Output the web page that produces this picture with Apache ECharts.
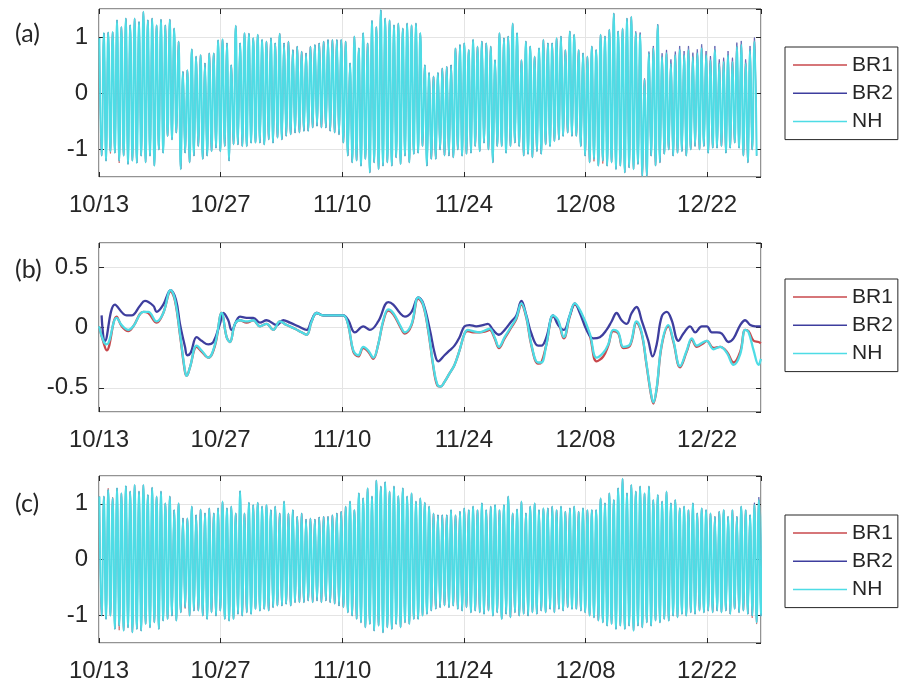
<!DOCTYPE html>
<html><head><meta charset="utf-8">
<script src="https://cdn.jsdelivr.net/npm/echarts@6/dist/echarts.min.js"></script>
<style>html,body{margin:0;padding:0;background:#fff}#c{width:899px;height:683px}</style>
</head><body><div id="c"></div>
<script>
// ---------- data ----------
const seriesNames = ['BR1', 'BR2', 'NH'];
const panelLabels = ['(a)', '(b)', '(c)'];
const startDateUTC = [2019, 9, 13];      // 10/13
const xMaxDay = 76.2;                    // days after 10/13
const xTickStepDay = 14;
const tideStartDay = 0.05;
const tideStepDay = 0.253;               // spacing between successive high / low waters

// (a) high and low waters
const aNHHigh = [0.98,1.07,1.08,1.09,1.30,1.18,1.33,1.21,1.33,1.27,1.45,1.30,1.33,1.21,1.31,1.21,1.31,1.15,0.92,0.38,0.41,0.78,0.65,0.68,0.53,0.71,0.71,0.94,0.96,0.89,0.50,1.20,0.89,1.07,1.06,0.98,1.04,0.95,0.92,0.98,0.89,1.06,0.89,0.92,0.77,0.83,0.74,0.71,0.83,0.86,0.89,0.92,0.95,0.95,0.95,0.95,0.92,0.53,1.01,0.80,1.07,0.89,1.29,1.18,1.48,1.33,1.30,1.21,1.24,1.15,1.24,1.21,1.24,1.07,0.50,0.36,0.30,0.36,0.44,0.47,0.50,0.80,0.86,0.89,0.77,0.95,0.83,0.92,0.89,0.83,0.59,1.07,0.98,1.01,1.24,1.07,0.59,0.92,0.83,0.65,0.80,0.95,0.89,0.89,0.98,1.01,0.77,1.10,1.04,0.77,0.71,0.65,0.83,0.77,1.04,1.01,1.13,1.42,1.10,1.15,1.33,1.36,1.07,1.04,0.24,0.71,0.80,1.21,0.65,0.71,0.53,0.68,0.77,0.68,0.77,0.65,0.71,0.80,0.68,0.59,0.77,0.53,0.56,0.68,0.56,0.83,0.86,0.53,0.77,0.92];
const aNHLow = [-1.12,-1.21,-1.04,-1.07,-1.21,-1.12,-1.27,-1.21,-1.25,-1.12,-1.24,-1.12,-1.30,-1.01,-1.07,-0.77,-0.83,-0.71,-1.36,-1.07,-1.24,-1.12,-0.95,-1.18,-1.12,-1.04,-0.98,-1.04,-0.95,-1.21,-0.92,-0.92,-0.95,-0.95,-0.89,-0.89,-0.89,-0.92,-0.83,-0.89,-0.80,-0.83,-0.77,-0.74,-0.71,-0.71,-0.68,-0.68,-0.62,-0.59,-0.62,-0.62,-0.68,-0.71,-0.74,-0.89,-1.12,-1.24,-1.21,-1.30,-1.18,-1.42,-1.24,-1.36,-1.30,-1.24,-1.30,-1.15,-1.27,-1.12,-1.24,-1.09,-1.07,-0.95,-1.30,-1.18,-1.18,-1.01,-1.12,-1.12,-1.15,-1.01,-1.12,-1.09,-1.07,-0.95,-1.04,-0.89,-1.01,-1.24,-0.95,-0.95,-1.07,-0.95,-0.89,-0.95,-1.12,-1.09,-1.15,-1.04,-1.09,-0.92,-0.95,-0.86,-0.83,-0.77,-0.71,-0.77,-0.77,-0.95,-1.12,-1.24,-1.18,-1.30,-1.21,-1.30,-1.24,-1.36,-1.30,-1.42,-1.33,-1.36,-1.27,-1.48,-1.48,-1.12,-1.30,-1.24,-1.09,-1.01,-1.12,-1.07,-1.04,-1.12,-1.01,-0.95,-1.01,-0.95,-1.07,-0.98,-0.98,-0.95,-1.07,-0.98,-0.89,-0.98,-1.12,-1.24,-1.01,-1.12];
const aBR1High = [0.98,1.07,1.08,1.09,1.30,1.18,1.33,1.21,1.33,1.27,1.45,1.30,1.33,1.21,1.31,1.21,1.31,1.15,0.92,0.38,0.41,0.78,0.65,0.68,0.53,0.71,0.71,0.94,0.96,0.89,0.50,1.20,0.89,1.07,1.06,0.98,1.04,0.95,0.92,0.98,0.89,1.06,0.89,0.92,0.77,0.83,0.74,0.71,0.83,0.86,0.89,0.92,0.95,0.95,0.95,0.95,0.92,0.53,1.01,0.80,1.07,0.89,1.29,1.18,1.48,1.33,1.30,1.21,1.24,1.15,1.24,1.21,1.24,1.07,0.50,0.36,0.30,0.36,0.44,0.47,0.50,0.80,0.86,0.89,0.77,0.95,0.83,0.92,0.89,0.83,0.59,1.07,0.98,1.01,1.24,1.07,0.59,0.92,0.83,0.65,0.80,0.95,0.89,0.89,0.98,1.01,0.77,1.10,1.04,0.77,0.71,0.65,0.83,0.77,1.04,1.01,1.13,1.42,1.10,1.15,1.33,1.36,1.07,1.04,0.24,0.71,0.80,1.21,0.65,0.71,0.53,0.68,0.77,0.68,0.77,0.65,0.71,0.80,0.68,0.59,0.77,0.53,0.56,0.68,0.56,0.83,0.86,0.53,0.77,0.92];
const aBR1Low = [-1.12,-1.21,-1.08,-1.07,-1.25,-1.12,-1.27,-1.21,-1.25,-1.12,-1.24,-1.12,-1.30,-1.01,-1.07,-0.77,-0.83,-0.71,-1.36,-1.07,-1.24,-1.12,-0.95,-1.18,-1.12,-1.04,-0.98,-1.04,-0.95,-1.21,-0.92,-0.92,-0.95,-0.95,-0.89,-0.89,-0.89,-0.92,-0.83,-0.89,-0.80,-0.83,-0.77,-0.74,-0.71,-0.71,-0.68,-0.68,-0.62,-0.59,-0.62,-0.62,-0.68,-0.71,-0.74,-0.89,-1.12,-1.24,-1.21,-1.30,-1.18,-1.42,-1.24,-1.36,-1.30,-1.24,-1.30,-1.15,-1.27,-1.12,-1.24,-1.09,-1.07,-0.95,-1.30,-1.18,-1.18,-1.01,-1.12,-1.12,-1.15,-1.01,-1.12,-1.09,-1.07,-0.95,-1.04,-0.89,-1.01,-1.24,-0.95,-0.95,-1.07,-0.95,-0.89,-0.95,-1.12,-1.09,-1.15,-1.04,-1.09,-0.92,-0.95,-0.86,-0.83,-0.77,-0.71,-0.77,-0.77,-0.95,-1.12,-1.24,-1.22,-1.30,-1.26,-1.30,-1.24,-1.36,-1.30,-1.42,-1.33,-1.36,-1.27,-1.48,-1.48,-1.12,-1.30,-1.24,-1.09,-1.01,-1.12,-1.07,-1.04,-1.12,-1.01,-0.95,-1.01,-0.95,-1.07,-0.98,-0.98,-0.95,-1.07,-0.98,-0.89,-0.98,-1.12,-1.24,-1.01,-1.12];
const aBR2High = [0.98,1.07,1.08,1.09,1.30,1.18,1.33,1.21,1.33,1.27,1.45,1.30,1.33,1.21,1.31,1.21,1.31,1.15,0.92,0.38,0.41,0.78,0.65,0.68,0.53,0.71,0.71,0.94,0.96,0.89,0.50,1.20,0.89,1.07,1.06,0.98,1.04,0.95,0.92,0.98,0.89,1.06,0.89,0.92,0.77,0.83,0.74,0.71,0.83,0.86,0.89,0.92,0.95,0.95,0.95,0.95,0.92,0.53,1.01,0.80,1.07,0.89,1.29,1.18,1.48,1.33,1.30,1.21,1.24,1.15,1.24,1.21,1.24,1.07,0.50,0.36,0.30,0.36,0.44,0.47,0.50,0.80,0.86,0.89,0.77,0.95,0.83,0.92,0.89,0.83,0.59,1.07,0.98,1.01,1.24,1.07,0.59,0.92,0.83,0.65,0.80,0.95,0.89,0.89,0.98,1.01,0.77,1.10,1.04,0.77,0.71,0.65,0.83,0.77,1.04,1.01,1.13,1.42,1.10,1.15,1.33,1.36,1.10,1.08,0.26,0.74,0.84,1.23,0.71,0.77,0.60,0.74,0.84,0.75,0.84,0.72,0.78,0.87,0.75,0.66,0.84,0.60,0.63,0.75,0.63,0.90,0.93,0.60,0.84,0.99];
const aBR2Low = [-1.12,-1.21,-1.04,-1.07,-1.21,-1.12,-1.27,-1.21,-1.25,-1.12,-1.24,-1.12,-1.30,-1.01,-1.07,-0.77,-0.83,-0.71,-1.36,-1.07,-1.24,-1.12,-0.95,-1.18,-1.12,-1.04,-0.98,-1.04,-0.95,-1.21,-0.92,-0.92,-0.95,-0.95,-0.89,-0.89,-0.89,-0.92,-0.83,-0.89,-0.80,-0.83,-0.77,-0.74,-0.71,-0.71,-0.68,-0.68,-0.62,-0.59,-0.62,-0.62,-0.68,-0.71,-0.74,-0.89,-1.12,-1.24,-1.21,-1.30,-1.18,-1.42,-1.24,-1.36,-1.30,-1.24,-1.30,-1.15,-1.27,-1.12,-1.24,-1.09,-1.07,-0.95,-1.30,-1.18,-1.18,-1.01,-1.12,-1.12,-1.15,-1.01,-1.12,-1.09,-1.07,-0.95,-1.04,-0.89,-1.01,-1.24,-0.95,-0.95,-1.07,-0.95,-0.89,-0.95,-1.12,-1.09,-1.15,-1.04,-1.09,-0.92,-0.95,-0.86,-0.83,-0.77,-0.71,-0.77,-0.77,-0.95,-1.12,-1.24,-1.18,-1.30,-1.21,-1.30,-1.24,-1.36,-1.30,-1.42,-1.33,-1.36,-1.27,-1.48,-1.48,-1.12,-1.30,-1.24,-1.09,-1.01,-1.12,-1.07,-1.04,-1.12,-1.01,-0.95,-1.01,-0.95,-1.07,-0.98,-0.98,-0.95,-1.07,-0.98,-0.89,-0.98,-1.12,-1.24,-1.01,-1.12];

// (b) subtidal levels
const bDaysNH = [0,0.5,0.88,2.03,2.61,3.38,3.95,5.1,5.68,6.64,7.4,8.25,8.75,9.32,9.9,10.09,10.47,11.24,11.81,12.58,13.35,14.12,14.69,15.07,15.65,16.23,16.99,17.76,18.53,19.29,20.06,20.83,21.6,22.55,23.32,23.9,24.47,25.05,25.81,26.58,27.35,28.12,28.69,29.27,29.84,30.42,30.99,31.57,32.14,32.72,33.3,33.87,34.64,35.21,35.98,36.75,37.32,37.9,38.47,38.93,39.32,39.77,40.35,40.92,41.5,42.08,42.46,43.04,43.81,44.58,44.96,45.54,46.04,46.69,47.46,48.04,48.62,49.19,49.77,50.54,50.92,51.5,52.27,52.85,53.5,54.19,54.77,55.54,56.5,57.27,58.04,58.62,59.19,59.77,60.35,61.12,61.88,62.46,63.04,63.5,63.81,64.19,64.77,65.54,66.12,66.88,67.65,68.23,68.81,69.58,69.96,70.73,71.5,72.27,73.04,73.81,74.38,74.77,75.35,75.92,76.19];
const bNH = [0.01,-0.11,-0.14,0.08,0.02,-0.02,0.01,0.13,0.13,0.05,0.12,0.31,0.23,-0.05,-0.36,-0.40,-0.33,-0.15,-0.19,-0.25,-0.14,0.12,-0.08,-0.12,0.03,0.06,0.05,0.06,0.01,0.03,-0.02,0.05,0.02,-0.01,-0.04,-0.06,0.05,0.12,0.10,0.10,0.10,0.10,0.02,-0.19,-0.23,-0.16,-0.19,-0.25,-0.14,0.06,0.15,0.12,0.02,-0.04,0.03,0.25,0.19,-0.02,-0.31,-0.47,-0.49,-0.45,-0.38,-0.31,-0.19,-0.05,-0.02,-0.03,-0.04,-0.02,-0.01,-0.08,-0.16,-0.08,0.01,0.08,0.20,0.09,-0.14,-0.29,-0.29,-0.14,0.10,0.06,-0.08,0.10,0.20,0.12,-0.05,-0.25,-0.21,-0.14,-0.02,-0.04,-0.16,-0.14,0.05,-0.04,-0.31,-0.53,-0.62,-0.50,-0.14,0.02,-0.11,-0.32,-0.19,-0.09,-0.15,-0.12,-0.11,-0.18,-0.16,-0.21,-0.31,-0.22,-0.02,-0.04,-0.19,-0.31,-0.26];
const bDaysBR1 = bDaysNH;
const bBR1 = [0.01,-0.12,-0.19,0.09,0.01,-0.03,0.01,0.13,0.12,0.04,0.12,0.30,0.22,-0.06,-0.37,-0.40,-0.33,-0.16,-0.20,-0.25,-0.15,0.12,-0.08,-0.12,0.03,0.06,0.04,0.06,0.01,0.03,-0.02,0.05,0.02,-0.01,-0.04,-0.06,0.05,0.12,0.10,0.10,0.10,0.10,0.02,-0.20,-0.24,-0.17,-0.20,-0.26,-0.14,0.05,0.14,0.11,0.01,-0.05,0.02,0.24,0.18,-0.03,-0.32,-0.48,-0.49,-0.45,-0.38,-0.31,-0.19,-0.05,-0.03,-0.04,-0.04,-0.03,-0.02,-0.09,-0.17,-0.09,0.00,0.07,0.19,0.08,-0.15,-0.30,-0.29,-0.14,0.09,0.05,-0.09,0.09,0.19,0.11,-0.07,-0.28,-0.24,-0.15,-0.03,-0.05,-0.17,-0.15,0.04,-0.05,-0.32,-0.54,-0.63,-0.51,-0.15,0.01,-0.12,-0.33,-0.20,-0.10,-0.16,-0.13,-0.11,-0.17,-0.16,-0.20,-0.29,-0.20,-0.02,-0.03,-0.11,-0.12,-0.13];
const bDaysBR2 = [0.3,0.69,1.84,3.18,3.76,4.72,5.29,6.25,6.64,7.4,8.25,8.86,9.32,9.9,10.16,10.55,11.24,11.81,12.58,13.16,13.92,14.31,14.88,15.27,16.23,16.99,17.76,18.53,19.29,20.44,21.21,21.98,22.94,23.9,24.47,25.05,25.81,26.97,28.12,28.69,29.46,30.42,31.18,32.14,33.3,33.87,34.64,35.21,35.98,36.75,37.32,38.09,38.66,39.05,39.77,40.35,40.92,41.5,42.08,42.65,43.42,44.19,44.77,45.35,46.04,46.69,47.46,48.04,48.62,49.19,49.77,50.54,50.92,51.5,52.27,52.85,53.5,54.19,54.77,55.35,56.12,56.88,57.65,58.42,59.0,59.58,60.15,60.73,61.31,61.88,62.46,63.23,63.73,64.19,64.77,65.35,65.92,66.69,67.27,68.04,68.62,69.38,69.96,70.54,71.12,71.69,72.46,73.04,73.81,74.38,74.96,75.54,76.19];
const bBR2 = [0.10,-0.11,0.19,0.10,0.10,0.18,0.22,0.18,0.13,0.19,0.31,0.23,0.03,-0.16,-0.23,-0.21,-0.08,-0.11,-0.14,-0.12,0.03,0.12,0.06,-0.02,0.09,0.08,0.08,0.04,0.06,0.02,0.06,0.04,0.01,-0.02,0.06,0.12,0.10,0.10,0.10,0.06,-0.04,0.01,-0.02,0.05,0.21,0.19,0.12,0.09,0.13,0.25,0.20,-0.02,-0.22,-0.28,-0.23,-0.19,-0.15,-0.08,0.01,0.02,0.01,0.02,0.03,-0.02,-0.06,-0.02,0.05,0.10,0.22,0.10,-0.05,-0.15,-0.15,-0.08,0.10,0.02,-0.02,0.10,0.20,0.12,-0.02,-0.09,-0.08,-0.02,0.05,0.12,0.06,0.03,0.12,0.17,0.06,-0.11,-0.24,-0.14,0.09,0.13,0.06,-0.11,-0.05,0.01,-0.04,0.01,0.01,-0.04,-0.04,-0.05,-0.12,-0.09,0.02,0.06,0.02,0.01,0.01];

// (c) high and low waters
const cNHHigh = [1.13,1.13,1.25,1.10,1.28,1.19,1.32,1.22,1.34,1.22,1.34,1.16,1.29,1.13,1.22,1.01,1.13,0.89,1.01,0.74,0.74,0.95,0.80,0.90,0.83,0.92,0.83,0.92,1.04,0.92,0.95,0.83,1.23,0.83,1.02,0.98,1.02,0.95,0.98,0.89,0.95,0.83,1.04,0.83,0.89,0.77,0.83,0.72,0.74,0.72,0.76,0.77,0.77,0.80,0.83,0.86,0.95,1.04,0.89,1.19,1.10,1.28,1.13,1.42,1.31,1.39,1.22,1.31,1.14,1.28,1.13,1.19,1.04,1.10,1.02,0.95,0.83,0.80,0.80,0.80,0.89,0.80,0.86,0.92,0.89,0.95,0.89,1.01,0.89,0.95,0.98,0.89,0.98,1.13,0.83,0.90,1.04,0.83,0.95,1.01,0.89,0.92,0.92,0.95,0.89,0.95,0.86,0.92,0.95,0.86,0.92,0.89,0.89,0.89,1.10,1.01,1.19,1.07,1.28,1.45,1.19,1.34,1.22,1.31,1.19,1.31,1.07,1.16,1.04,1.22,1.01,1.07,0.92,0.95,0.89,1.01,0.83,0.92,0.89,0.83,0.77,0.86,0.89,0.77,0.89,0.77,0.95,0.89,0.80,0.98,1.07,0.95];
const cNHLow = [-1.01,-1.07,-1.01,-1.25,-1.19,-1.28,-1.22,-1.31,-1.25,-1.28,-1.16,-1.22,-1.13,-1.25,-1.10,-1.07,-1.01,-1.10,-0.95,-0.86,-1.01,-0.92,-0.92,-1.01,-1.07,-0.95,-1.01,-0.92,-1.07,-1.10,-1.07,-0.98,-1.01,-0.95,-0.98,-0.89,-0.92,-0.89,-0.92,-0.86,-0.83,-0.83,-0.80,-0.83,-0.77,-0.77,-0.77,-0.74,-0.77,-0.74,-0.77,-0.74,-0.77,-0.80,-0.83,-0.86,-0.95,-1.01,-1.07,-1.13,-1.22,-1.16,-1.28,-1.19,-1.31,-1.22,-1.25,-1.16,-1.22,-1.13,-1.16,-1.07,-1.07,-1.01,-0.98,-0.92,-0.89,-0.86,-0.83,-0.86,-0.83,-0.89,-0.92,-0.86,-0.95,-0.92,-0.95,-0.98,-0.92,-1.01,-0.95,-1.07,-0.98,-1.04,-0.95,-1.01,-0.98,-1.01,-0.95,-0.98,-0.92,-0.95,-0.89,-0.95,-0.89,-0.92,-0.86,-0.89,-0.89,-0.92,-0.95,-1.01,-1.04,-1.10,-1.13,-1.19,-1.16,-1.25,-1.19,-1.25,-1.19,-1.28,-1.19,-1.22,-1.13,-1.19,-1.10,-1.13,-1.07,-1.10,-1.01,-1.04,-0.98,-1.01,-0.95,-0.98,-0.92,-0.95,-0.92,-0.95,-0.92,-0.95,-0.92,-0.98,-0.89,-0.95,-0.92,-0.98,-1.01,-1.13,-1.01,-0.98];
const cBR1High = [1.13,1.13,1.28,1.12,1.28,1.19,1.32,1.22,1.34,1.22,1.34,1.16,1.29,1.13,1.22,1.01,1.13,0.89,1.01,0.74,0.74,0.95,0.80,0.90,0.83,0.92,0.83,0.92,1.04,0.92,0.95,0.83,1.23,0.83,1.02,0.98,1.02,0.95,0.98,0.89,0.95,0.83,1.04,0.83,0.89,0.77,0.83,0.72,0.74,0.72,0.76,0.77,0.77,0.80,0.83,0.86,0.95,1.04,0.89,1.19,1.10,1.28,1.13,1.42,1.31,1.39,1.22,1.31,1.14,1.28,1.13,1.19,1.04,1.10,1.02,0.95,0.83,0.80,0.80,0.80,0.89,0.80,0.86,0.92,0.89,0.95,0.89,1.01,0.89,0.95,0.98,0.89,0.98,1.13,0.83,0.90,1.04,0.83,0.95,1.01,0.89,0.92,0.92,0.95,0.89,0.95,0.86,0.92,0.95,0.86,0.92,0.89,0.89,0.89,1.10,1.01,1.19,1.07,1.28,1.45,1.19,1.34,1.22,1.31,1.19,1.31,1.07,1.16,1.04,1.22,1.01,1.07,0.92,0.95,0.89,1.01,0.83,0.92,0.89,0.83,0.77,0.86,0.89,0.77,0.89,0.77,0.95,0.89,0.80,0.98,1.07,0.95];
const cBR1Low = [-1.01,-1.07,-1.01,-1.25,-1.27,-1.28,-1.22,-1.31,-1.25,-1.28,-1.16,-1.22,-1.13,-1.25,-1.10,-1.07,-1.01,-1.10,-0.95,-0.88,-1.01,-0.92,-0.92,-1.01,-1.07,-0.95,-1.01,-0.92,-1.07,-1.10,-1.07,-0.98,-1.01,-0.95,-0.98,-0.89,-0.92,-0.89,-0.92,-0.86,-0.83,-0.83,-0.80,-0.83,-0.77,-0.77,-0.77,-0.74,-0.77,-0.74,-0.77,-0.74,-0.77,-0.80,-0.83,-0.86,-0.95,-1.01,-1.07,-1.13,-1.22,-1.16,-1.28,-1.19,-1.31,-1.22,-1.25,-1.16,-1.22,-1.13,-1.16,-1.07,-1.07,-1.01,-0.98,-0.92,-0.89,-0.86,-0.83,-0.86,-0.83,-0.89,-0.92,-0.86,-0.95,-0.92,-0.95,-0.98,-0.92,-1.01,-0.95,-1.07,-0.98,-1.04,-0.95,-1.01,-0.98,-1.01,-0.95,-0.98,-0.92,-0.95,-0.89,-0.95,-0.89,-0.92,-0.86,-0.89,-0.89,-0.92,-0.95,-1.01,-1.04,-1.10,-1.13,-1.19,-1.16,-1.25,-1.19,-1.25,-1.19,-1.28,-1.19,-1.22,-1.13,-1.19,-1.10,-1.13,-1.07,-1.10,-1.01,-1.04,-0.98,-1.01,-0.95,-0.98,-0.92,-0.95,-0.92,-0.95,-0.92,-0.95,-0.92,-0.98,-0.89,-0.95,-0.92,-0.98,-1.05,-1.16,-1.01,-0.98];
const cBR2High = [1.13,1.13,1.25,1.10,1.28,1.19,1.32,1.22,1.34,1.22,1.34,1.16,1.29,1.13,1.22,1.01,1.13,0.89,1.01,0.74,0.74,0.95,0.80,0.90,0.83,0.92,0.83,0.92,1.04,0.92,0.95,0.83,1.23,0.83,1.02,0.98,1.02,0.95,0.98,0.89,0.95,0.83,1.04,0.83,0.89,0.77,0.83,0.72,0.74,0.72,0.76,0.77,0.77,0.80,0.83,0.86,0.95,1.04,0.89,1.19,1.10,1.28,1.13,1.42,1.31,1.39,1.22,1.31,1.14,1.28,1.13,1.19,1.04,1.10,1.02,0.95,0.83,0.80,0.80,0.80,0.89,0.80,0.86,0.92,0.89,0.95,0.89,1.01,0.89,0.95,0.98,0.89,0.98,1.13,0.83,0.90,1.04,0.83,0.95,1.01,0.89,0.92,0.92,0.95,0.89,0.95,0.86,0.92,0.95,0.86,0.92,0.89,0.89,0.89,1.10,1.01,1.19,1.07,1.28,1.45,1.19,1.34,1.22,1.31,1.19,1.31,1.07,1.16,1.04,1.22,1.01,1.07,0.92,0.95,0.89,1.01,0.83,0.92,0.89,0.83,0.77,0.86,0.89,0.77,0.89,0.77,0.95,0.89,0.80,1.02,1.12,0.99];
const cBR2Low = [-1.01,-1.07,-1.01,-1.25,-1.19,-1.28,-1.22,-1.31,-1.25,-1.28,-1.16,-1.22,-1.13,-1.25,-1.10,-1.07,-1.01,-1.10,-0.95,-0.86,-1.01,-0.92,-0.92,-1.01,-1.07,-0.95,-1.01,-0.92,-1.07,-1.10,-1.07,-0.98,-1.01,-0.95,-0.98,-0.89,-0.92,-0.89,-0.92,-0.86,-0.83,-0.83,-0.80,-0.83,-0.77,-0.77,-0.77,-0.74,-0.77,-0.74,-0.77,-0.74,-0.77,-0.80,-0.83,-0.86,-0.95,-1.01,-1.07,-1.13,-1.22,-1.16,-1.28,-1.19,-1.31,-1.22,-1.25,-1.16,-1.22,-1.13,-1.16,-1.07,-1.07,-1.01,-0.98,-0.92,-0.89,-0.86,-0.83,-0.86,-0.83,-0.89,-0.92,-0.86,-0.95,-0.92,-0.95,-0.98,-0.92,-1.01,-0.95,-1.07,-0.98,-1.04,-0.95,-1.01,-0.98,-1.01,-0.95,-0.98,-0.92,-0.95,-0.89,-0.95,-0.89,-0.92,-0.86,-0.89,-0.89,-0.92,-0.95,-1.01,-1.04,-1.10,-1.13,-1.19,-1.16,-1.25,-1.19,-1.25,-1.19,-1.28,-1.19,-1.22,-1.13,-1.19,-1.10,-1.13,-1.07,-1.10,-1.01,-1.04,-0.98,-1.01,-0.95,-0.98,-0.92,-0.95,-0.92,-0.95,-0.92,-0.95,-0.92,-0.98,-0.89,-0.95,-0.92,-0.98,-1.01,-1.13,-1.01,-0.98];

// ---------- build ----------
const colors = {BR1: '#c8484c', BR2: '#3e3e9e', NH: '#4edce5'};
const fontAxis = 'Liberation Sans';

function tidePairs(high, low) {
  const out = [];
  for (let i = 0; i < high.length; i++) {
    out.push([tideStartDay + 2 * i * tideStepDay, high[i]]);
    if (i < low.length) out.push([tideStartDay + (2 * i + 1) * tideStepDay, low[i]]);
  }
  return out;
}
function zipPairs(days, vals) { return days.map((d, i) => [d, vals[i]]); }
function fmtDay(v) {
  const d = new Date(Date.UTC(startDateUTC[0], startDateUTC[1], startDateUTC[2]) + Math.round(v * 86400000));
  return String(d.getUTCMonth() + 1).padStart(2, '0') + '/' + String(d.getUTCDate()).padStart(2, '0');
}

const panelData = [
  {BR1: tidePairs(aBR1High, aBR1Low), BR2: tidePairs(aBR2High, aBR2Low), NH: tidePairs(aNHHigh, aNHLow)},
  {BR1: zipPairs(bDaysBR1, bBR1), BR2: zipPairs(bDaysBR2, bBR2), NH: zipPairs(bDaysNH, bNH)},
  {BR1: tidePairs(cBR1High, cBR1Low), BR2: tidePairs(cBR2High, cBR2Low), NH: tidePairs(cNHHigh, cNHLow)}
];
const yRanges = [[-1.5, 1.5], [-0.7, 0.7], [-1.5, 1.5]];
const gridTops = [9, 243, 476];
const gridHeights = [168, 169, 169];
const legendTops = [47, 279, 515];
const labelTops = [16, 252, 486];

const grid = [], xAxis = [], yAxis = [], series = [], legend = [], title = [];
const tickStyle = {inside: true, length: 5, lineStyle: {color: '#262626'}};
for (let p = 0; p < 3; p++) {
  grid.push({left: 99, top: gridTops[p], width: 662, height: gridHeights[p], show: true,
    borderColor: '#262626', borderWidth: 1, backgroundColor: '#fff'});
  const xBase = {gridIndex: p, type: 'value', min: 0, max: xMaxDay, interval: xTickStepDay,
    axisLine: {show: false, onZero: false}, axisTick: tickStyle};
  xAxis.push(Object.assign({}, xBase, {position: 'bottom',
    axisLabel: {formatter: fmtDay, fontSize: 24, fontFamily: fontAxis, color: '#262626', margin: 16, showMaxLabel: false},
    splitLine: {show: true, lineStyle: {color: '#e4e4e4', width: 1}}}));
  xAxis.push(Object.assign({}, xBase, {position: 'top', axisLabel: {show: false}, splitLine: {show: false}}));
  const yBase = {gridIndex: p, type: 'value', min: yRanges[p][0], max: yRanges[p][1], splitNumber: 3,
    axisLine: {show: false, onZero: false}, axisTick: tickStyle};
  yAxis.push(Object.assign({}, yBase, {position: 'left',
    axisLabel: {fontSize: 24, fontFamily: fontAxis, color: '#262626', margin: 11, showMinLabel: false, showMaxLabel: false},
    splitLine: {show: true, lineStyle: {color: '#e4e4e4', width: 1}}}));
  yAxis.push(Object.assign({}, yBase, {position: 'right', axisLabel: {show: false}, splitLine: {show: false}}));
  seriesNames.forEach(name => {
    const isNH = name === 'NH';
    series.push({name: name, type: 'line', xAxisIndex: 2 * p, yAxisIndex: 2 * p,
      data: panelData[p][name], showSymbol: false, symbol: 'none', animation: false,
      smooth: p === 1 ? 0.4 : 0.5,
      lineStyle: {color: colors[name], width: p === 1 ? 2.3 : (isNH ? 2 : 0.7)},
      itemStyle: {color: colors[name]}});
  });
  legend.push({data: seriesNames, orient: 'vertical', left: 785, top: legendTops[p],
    icon: 'rect', itemWidth: 54, itemHeight: 1.5, itemGap: 7.3,
    borderColor: '#262626', borderWidth: 1, borderRadius: 0, backgroundColor: '#fff',
    padding: [7.5, 5, 7.5, 8], selectedMode: false,
    textStyle: {fontSize: 21, lineHeight: 21, fontFamily: fontAxis, color: '#262626'}});
  title.push({text: panelLabels[p], left: 10, top: labelTops[p],
    textStyle: {fontSize: 25, fontFamily: 'Lato', fontWeight: 'normal', color: '#262626'}});
}

const chart = echarts.init(document.getElementById('c'), null, {renderer: 'canvas'});
chart.setOption({animation: false, backgroundColor: '#fff', title, grid, xAxis, yAxis, legend, series});
</script>
</body></html>
